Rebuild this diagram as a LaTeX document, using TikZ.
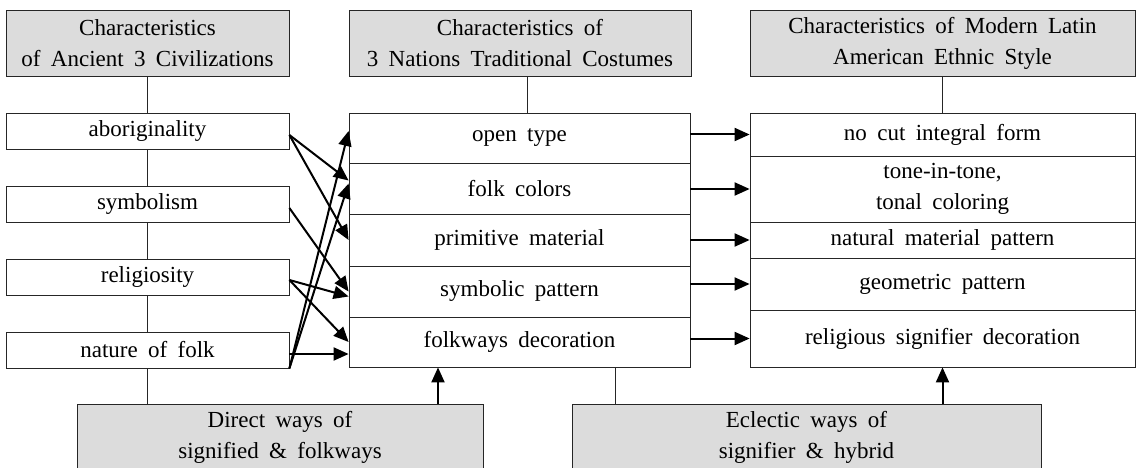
\documentclass[tikz,border=0pt]{standalone}
\usepackage{fontspec}
\setmainfont{Liberation Serif}[WordSpace=1.8]
\usepackage{xcolor}
\usetikzlibrary{arrows.meta}
\definecolor{hdrgray}{HTML}{DCDCDC}

\tikzset{
  box/.style={draw=black!85, line width=0.8pt, fill=white, inner sep=0pt,
              align=center, font=\fontsize{23}{31}\selectfont},
  hdr/.style={box, fill=hdrgray, minimum height=66pt},
  lcell/.style={box, minimum width=283pt, minimum height=36pt},
  mcell/.style={box, minimum width=341pt},
  rcell/.style={box, minimum width=385pt},
  arr/.style={-{Triangle[length=15pt,width=13pt]}, line width=2pt},
  link/.style={draw=black!85, line width=0.8pt}
}

\begin{document}
\begin{tikzpicture}[x=1pt,y=-1pt]
\useasboundingbox (0,0) rectangle (1138,468);

% headers
\node [hdr, minimum width=283pt] (hdrL) at (147.5,43)
      {Characteristics\\of Ancient 3 Civilizations};
\node [hdr, minimum width=342pt] (hdrM) at (520,43)
      {Characteristics of\\3 Nations Traditional Costumes};
\node [hdr, minimum width=385pt] (hdrR) at (942.5,43)
      {Characteristics of Modern Latin\\American Ethnic Style};

% bottom boxes
\node [hdr, minimum width=406pt] (direct) at (280,437)
      {Direct ways of\\signified \& folkways};
\node [hdr, minimum width=469pt] (eclectic) at (806.5,437)
      {Eclectic ways of\\signifier \& hybrid};

% left column
\node [lcell] (abor)   at (147.5,131) {aboriginality};
\node [lcell] (symbol) at (147.5,204) {symbolism};
\node [lcell] (relig)  at (147.5,277) {religiosity};
\node [lcell] (nature) at (147.5,350) {nature of folk};

% middle column
\node [mcell, minimum height=50pt] (open) at (519.5,138)   {open type};
\node [mcell, minimum height=51pt] (folk) at (519.5,188.5) {folk colors};
\node [mcell, minimum height=52pt] (prim) at (519.5,240)   {primitive material};
\node [mcell, minimum height=51pt] (symb) at (519.5,291.5) {symbolic pattern};
\node [mcell, minimum height=50pt] (fway) at (519.5,342)   {folkways decoration};

% right column
\node [rcell, minimum height=43pt] (nocut)  at (942.5,134.5) {no cut integral form};
\node [rcell, minimum height=66pt] (tone)   at (942.5,189)   {tone-in-tone,\\tonal coloring};
\node [rcell, minimum height=36pt] (natmat) at (942.5,240)   {natural material pattern};
\node [rcell, minimum height=52pt] (geo)    at (942.5,284)   {geometric pattern};
\node [rcell, minimum height=57pt] (relsig) at (942.5,338.5) {religious signifier decoration};

% plain links
\draw [link] (hdrL) -- (abor);
\draw [link] (abor) -- (symbol);
\draw [link] (symbol) -- (relig);
\draw [link] (relig) -- (nature);
\draw [link] (nature) -- (nature |- direct.north);
\draw [link] ([xshift=7pt]hdrM.south) -- ([xshift=7pt]hdrM.south |- open.north);
\draw [link] (hdrR) -- (nocut);
\draw [link] ([xshift=96pt]fway.south) -- ([xshift=96pt]fway.south |- eclectic.north);

% left to middle
\draw [arr] ([yshift=-4pt]abor.east) -- ([yshift=8pt]folk.west);
\draw [arr] ([yshift=-4pt]abor.east) -- (prim.west);
\draw [arr] ([yshift=-4pt]symbol.east) -- (symb.west);
\draw [arr] ([yshift=-3pt]relig.east) -- ([yshift=-5pt]symb.west);
\draw [arr] ([yshift=-3pt]relig.east) -- (fway.west);
\draw [arr] (nature.south east) -- ([yshift=7pt]open.west);
\draw [arr] (nature.south east) -- ([yshift=5pt]folk.west);
\draw [arr] ([yshift=-4pt]nature.east) -- ([yshift=-12pt]fway.west);

% middle to right
\draw [arr] (open.east |- nocut.west) -- (nocut.west);
\draw [arr] (folk.east |- tone.west) -- (tone.west);
\draw [arr] (prim.east |- natmat.west) -- (natmat.west);
\draw [arr] (symb.east |- geo.west) -- (geo.west);
\draw [arr] (fway.east |- relsig.west) -- (relsig.west);

% bottom arrows
\draw [arr] ([xshift=158pt]direct.north) -- ([xshift=158pt]direct.north |- fway.south);
\draw [arr] (relsig.south |- eclectic.north) -- (relsig.south);
\end{tikzpicture}
\end{document}
